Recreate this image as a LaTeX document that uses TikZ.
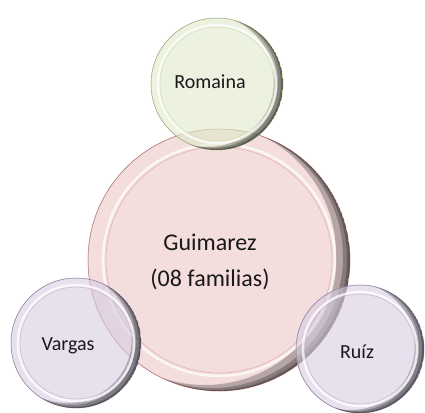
\documentclass[tikz,border=0pt]{standalone}
\usepackage{fontspec}
\setmainfont{Carlito}
\definecolor{fgreen}{RGB}{155,187,89}
\definecolor{fred}{RGB}{192,80,77}
\definecolor{fpurple}{RGB}{128,100,162}
\definecolor{ink}{RGB}{25,25,25}
\tikzset{
  bubble/.style={fill=#1!32, fill opacity=.6, draw=#1!60, draw opacity=.8, line width=.8pt},
  rimlight/.style={draw=white, line width=2.5pt, opacity=.75},
  rimline/.style={draw=#1!55, line width=.6pt, opacity=.7},
  darkedge/.style={fill=black, even odd rule, opacity=.25},
  bigname/.style={text=ink, align=center, font=\fontsize{24}{36}\selectfont},
  smallname/.style={text=ink, font=\fontsize{20}{24}\selectfont},
}

\begin{document}
\begin{tikzpicture}[x=1pt,y=-1pt]
\useasboundingbox (0,0) rectangle (425,412);

\coordinate (g) at (219,260);
\coordinate (r) at (217,84);
\coordinate (v) at (76,343);
\coordinate (z) at (360,349);

% Guimarez
\path[bubble=fred] (g) circle (131);
\begin{scope}
\clip (g) circle (131);
\fill[darkedge] (g) circle (131) ([shift={(-3,-1)}]g) circle (131);
\fill[darkedge] (g) circle (131) ([shift={(-7,-3)}]g) circle (131);
\fill[darkedge] (g) circle (131) ([shift={(-14,-6)}]g) circle (131);
\end{scope}
\draw[rimlight] (g) circle (116);
\draw[rimline=fred] (g) circle (113);

% Romaina
\path[bubble=fgreen] (r) circle (66);
\begin{scope}
\clip (r) circle (66);
\fill[darkedge] (r) circle (66) ([shift={(-2,-1)}]r) circle (66);
\fill[darkedge] (r) circle (66) ([shift={(-5,-2)}]r) circle (66);
\fill[darkedge] (r) circle (66) ([shift={(-9,-3)}]r) circle (66);
\end{scope}
\draw[rimlight] (r) circle (59);
\draw[rimline=fgreen] (r) circle (57);

% Vargas
\path[bubble=fpurple] (v) circle (65);
\begin{scope}
\clip (v) circle (65);
\fill[darkedge] (v) circle (65) ([shift={(-2,-1)}]v) circle (65);
\fill[darkedge] (v) circle (65) ([shift={(-5,-3)}]v) circle (65);
\fill[darkedge] (v) circle (65) ([shift={(-9,-5)}]v) circle (65);
\end{scope}
\draw[rimlight] (v) circle (58);
\draw[rimline=fpurple] (v) circle (56);

% Ruiz
\path[bubble=fpurple] (z) circle (64);
\begin{scope}
\clip (z) circle (64);
\fill[darkedge] (z) circle (64) ([shift={(-2,-1)}]z) circle (64);
\fill[darkedge] (z) circle (64) ([shift={(-5,-2)}]z) circle (64);
\fill[darkedge] (z) circle (64) ([shift={(-9,-3)}]z) circle (64);
\end{scope}
\draw[rimlight] (z) circle (57);
\draw[rimline=fpurple] (z) circle (55);

\node[bigname] (guimarez) at (210,262) {Guimarez\\(08 familias)};
\node[smallname] (romaina) at (210,82) {Romaina};
\node[smallname] (vargas) at (68,346) {Vargas};
\node[smallname] (ruiz) at (357,352) {Ruíz};

\end{tikzpicture}
\end{document}
